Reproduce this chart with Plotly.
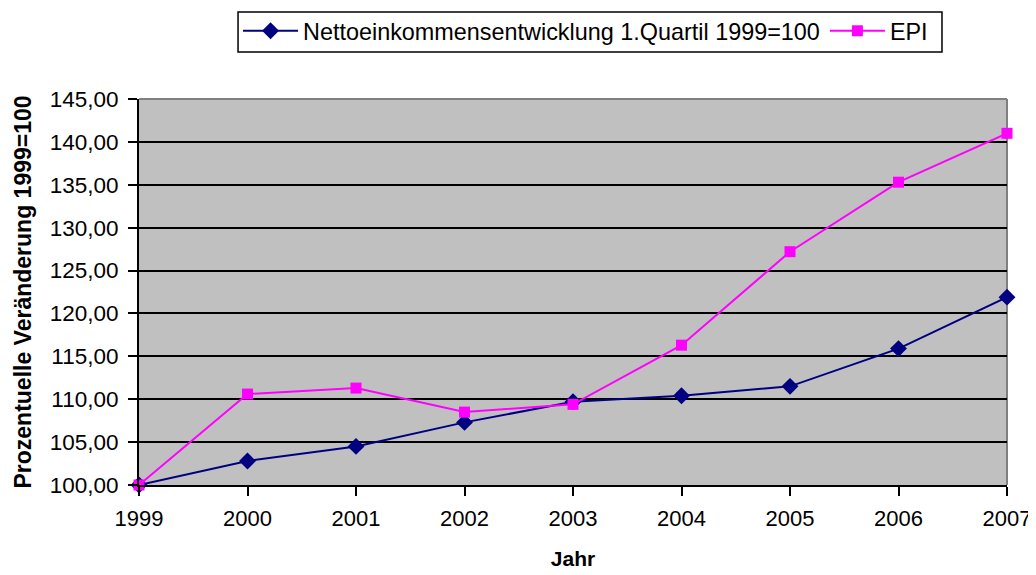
import plotly.graph_objects as go

years = [1999, 2000, 2001, 2002, 2003, 2004, 2005, 2006, 2007]
netto = [100.0, 102.8, 104.5, 107.3, 109.7, 110.4, 111.5, 115.9, 121.9]
epi = [100.0, 110.6, 111.3, 108.5, 109.4, 116.3, 127.2, 135.3, 141.0]

name_netto = "Nettoeinkommensentwicklung 1.Quartil 1999=100"
name_epi = "EPI"

font_family = "Liberation Sans, Arial, sans-serif"

fig = go.Figure()
fig.add_trace(go.Scatter(
    x=years, y=netto, name=name_netto, mode="lines+markers",
    line=dict(color="#000080", width=2),
    marker=dict(symbol="diamond", size=13, color="#000080"),
    cliponaxis=False,
))
fig.add_trace(go.Scatter(
    x=years, y=epi, name=name_epi, mode="lines+markers",
    line=dict(color="#FF00FF", width=2),
    marker=dict(symbol="square", size=11, color="#FF00FF"),
    cliponaxis=False,
))

fig.update_layout(
    width=1028, height=567,
    margin=dict(l=131, r=29, t=91, b=90, autoexpand=False),
    paper_bgcolor="white",
    plot_bgcolor="#C0C0C0",
    font=dict(family=font_family, size=22, color="black"),
    separators=",.",
    showlegend=True,
    legend=dict(
        orientation="h",
        x=0.1141, xanchor="left",
        y=1.233, yanchor="top",
        borderwidth=0,
        bgcolor="rgba(0,0,0,0)",
        font=dict(size=23.4),
        itemwidth=55,
    ),
    xaxis=dict(
        range=[1999, 2007],
        tickmode="array", tickvals=years, ticktext=[str(y) for y in years],
        showgrid=False, zeroline=False,
        showline=True, linecolor="black", linewidth=2,
        ticks="outside", ticklen=9, tickwidth=1.5, tickcolor="black",
        ticklabelstandoff=4,
        tickfont=dict(size=22),
        title=dict(text="<b>Jahr</b>", font=dict(size=21), standoff=21),
    ),
    yaxis=dict(
        range=[100, 145],
        tickmode="array", tickvals=[100, 105, 110, 115, 120, 125, 130, 135, 140, 145],
        tickformat=".2f",
        showgrid=True, gridcolor="black", gridwidth=1.5,
        zeroline=False,
        showline=True, linecolor="black", linewidth=2,
        ticks="outside", ticklen=9, tickwidth=1.5, tickcolor="black",
        ticklabelstandoff=5,
        tickfont=dict(size=22.5),
        title=dict(text="<b>Prozentuelle Veränderung 1999=100</b>", font=dict(size=23), standoff=12),
    ),
    shapes=[
        dict(type="line", xref="paper", yref="paper", x0=0, x1=1, y0=1, y1=1,
             line=dict(color="#808080", width=2), layer="above"),
        dict(type="line", xref="paper", yref="paper", x0=1, x1=1, y0=0, y1=1,
             line=dict(color="#808080", width=2), layer="below"),
        dict(type="rect", xref="paper", yref="paper",
             x0=0.1141, x1=0.9251, y0=1.1218, y1=1.2254,
             line=dict(color="black", width=1.5), fillcolor="white", layer="below"),
    ],
)

fig.write_html("out.html")
